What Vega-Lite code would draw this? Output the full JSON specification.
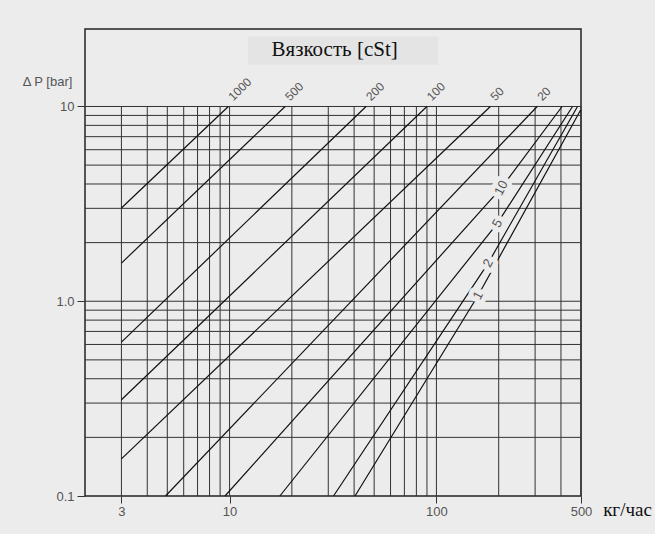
{
  "$schema": "https://vega.github.io/schema/vega-lite/v6.json",
  "width": 496,
  "height": 467,
  "autosize": {"type": "none"},
  "padding": {"left": 85, "top": 29, "right": 74, "bottom": 38},
  "background": "#ececec",
  "datasets": {
    "lines": [
      {"v": "1000", "q": 3, "dp": 3.01}, {"v": "1000", "q": 9.86, "dp": 10},
      {"v": "500", "q": 3, "dp": 1.57}, {"v": "500", "q": 18.56, "dp": 10},
      {"v": "200", "q": 3, "dp": 0.617}, {"v": "200", "q": 45.7, "dp": 10},
      {"v": "100", "q": 3, "dp": 0.312}, {"v": "100", "q": 89.9, "dp": 10},
      {"v": "50", "q": 3, "dp": 0.155}, {"v": "50", "q": 182.3, "dp": 10},
      {"v": "20", "q": 4.9, "dp": 0.1}, {"v": "20", "q": 307, "dp": 10},
      {"v": "10", "q": 9.5, "dp": 0.1}, {"v": "10", "q": 206, "dp": 3.82}, {"v": "10", "q": 405, "dp": 10},
      {"v": "5", "q": 17.5, "dp": 0.1}, {"v": "5", "q": 197, "dp": 2.51}, {"v": "5", "q": 455, "dp": 10},
      {"v": "2", "q": 31.8, "dp": 0.1}, {"v": "2", "q": 178, "dp": 1.57}, {"v": "2", "q": 481, "dp": 10},
      {"v": "1", "q": 40.4, "dp": 0.1}, {"v": "1", "q": 159, "dp": 1.07}, {"v": "1", "q": 498, "dp": 9.6}
    ],
    "toplabels": [
      {"v": "1000", "q": 9.86, "dp": 10},
      {"v": "500", "q": 18.56, "dp": 10},
      {"v": "200", "q": 45.7, "dp": 10},
      {"v": "100", "q": 89.9, "dp": 10},
      {"v": "50", "q": 182.3, "dp": 10},
      {"v": "20", "q": 307, "dp": 10}
    ],
    "inlabels": [
      {"v": "10", "q": 206, "dp": 3.82},
      {"v": "5", "q": 197, "dp": 2.51},
      {"v": "2", "q": 178, "dp": 1.57},
      {"v": "1", "q": 159, "dp": 1.07}
    ],
    "gridx": [
      {"q": 3, "dp": 0.1, "dp2": 10}, {"q": 4, "dp": 0.1, "dp2": 10}, {"q": 5, "dp": 0.1, "dp2": 10},
      {"q": 6, "dp": 0.1, "dp2": 10}, {"q": 7, "dp": 0.1, "dp2": 10}, {"q": 8, "dp": 0.1, "dp2": 10},
      {"q": 9, "dp": 0.1, "dp2": 10}, {"q": 10, "dp": 0.1, "dp2": 10},
      {"q": 20, "dp": 0.1, "dp2": 10}, {"q": 30, "dp": 0.1, "dp2": 10}, {"q": 40, "dp": 0.1, "dp2": 10},
      {"q": 50, "dp": 0.1, "dp2": 10}, {"q": 60, "dp": 0.1, "dp2": 10}, {"q": 70, "dp": 0.1, "dp2": 10},
      {"q": 80, "dp": 0.1, "dp2": 10}, {"q": 90, "dp": 0.1, "dp2": 10}, {"q": 100, "dp": 0.1, "dp2": 10},
      {"q": 200, "dp": 0.1, "dp2": 10}, {"q": 300, "dp": 0.1, "dp2": 10}, {"q": 400, "dp": 0.1, "dp2": 10},
      {"q": 500, "dp": 0.1, "dp2": 10}
    ],
    "gridy": [
      {"dp": 0.2, "q": 2, "q2": 500}, {"dp": 0.3, "q": 2, "q2": 500}, {"dp": 0.4, "q": 2, "q2": 500},
      {"dp": 0.5, "q": 2, "q2": 500}, {"dp": 0.6, "q": 2, "q2": 500}, {"dp": 0.7, "q": 2, "q2": 500},
      {"dp": 0.8, "q": 2, "q2": 500}, {"dp": 0.9, "q": 2, "q2": 500}, {"dp": 1, "q": 2, "q2": 500},
      {"dp": 2, "q": 2, "q2": 500}, {"dp": 3, "q": 2, "q2": 500}, {"dp": 4, "q": 2, "q2": 500},
      {"dp": 5, "q": 2, "q2": 500}, {"dp": 6, "q": 2, "q2": 500}, {"dp": 7, "q": 2, "q2": 500},
      {"dp": 8, "q": 2, "q2": 500}, {"dp": 9, "q": 2, "q2": 500}, {"dp": 10, "q": 2, "q2": 500}
    ],
    "titlebox": [
      {"q": 12.3, "q2": 102, "dp": 16.4, "dp2": 22.9, "t": "Вязкость [cSt]", "tq": 32.2, "tdp": 19.6}
    ]
  },
  "encoding": {
    "x": {
      "field": "q", "type": "quantitative",
      "scale": {"type": "log", "domain": [2, 500], "nice": false},
      "axis": {
        "title": "кг/час",
        "values": [3, 10, 100, 500],
        "format": "d",
        "grid": false,
        "domain": false,
        "ticks": true,
        "tickSize": 7,
        "tickColor": "#333333",
        "labelFont": "Liberation Sans",
        "labelFontSize": 13,
        "labelColor": "#555555",
        "labelPadding": 2,
        "labelFlush": false,
        "titleFont": "Liberation Serif",
        "titleFontSize": 19,
        "titleFontWeight": "normal",
        "titleColor": "#111111",
        "titleX": 542,
        "titleY": 13,
        "titleAlign": "center",
        "titleBaseline": "middle"
      }
    },
    "y": {
      "field": "dp", "type": "quantitative",
      "scale": {"type": "log", "domain": [0.1, 25], "nice": false},
      "axis": {
        "title": "Δ P [bar]",
        "values": [0.1, 1, 10],
        "labelExpr": "datum.value >= 5 ? '10' : datum.value >= 0.5 ? '1.0' : '0.1'",
        "grid": false,
        "domain": false,
        "ticks": true,
        "tickSize": 8,
        "tickColor": "#333333",
        "labelFont": "Liberation Sans",
        "labelFontSize": 13,
        "labelColor": "#555555",
        "labelPadding": 3,
        "labelFlush": false,
        "titleAngle": 0,
        "titleFont": "Liberation Sans",
        "titleFontSize": 13,
        "titleFontWeight": "normal",
        "titleColor": "#555555",
        "titleX": -38,
        "titleY": 52,
        "titleAlign": "center",
        "titleBaseline": "middle"
      }
    }
  },
  "layer": [
    {
      "data": {"name": "titlebox"},
      "mark": {"type": "rect", "color": "#e4e4e4"},
      "encoding": {
        "x2": {"field": "q2"},
        "y2": {"field": "dp2"}
      }
    },
    {
      "data": {"name": "titlebox"},
      "mark": {"type": "text", "font": "Liberation Serif", "fontSize": 21, "color": "#111111", "align": "center", "baseline": "middle"},
      "encoding": {
        "x": {"field": "tq", "type": "quantitative"},
        "y": {"field": "tdp", "type": "quantitative"},
        "text": {"field": "t", "type": "nominal"}
      }
    },
    {
      "data": {"name": "gridx"},
      "mark": {"type": "rule", "color": "#333333", "strokeWidth": 1},
      "encoding": {
        "y2": {"field": "dp2"}
      }
    },
    {
      "data": {"name": "gridy"},
      "mark": {"type": "rule", "color": "#333333", "strokeWidth": 1},
      "encoding": {
        "x2": {"field": "q2"}
      }
    },
    {
      "data": {"name": "lines"},
      "mark": {"type": "line", "color": "#111111", "strokeWidth": 1.2},
      "encoding": {
        "detail": {"field": "v", "type": "nominal"}
      }
    },
    {
      "data": {"name": "inlabels"},
      "mark": {"type": "text", "font": "Liberation Sans", "fontSize": 13, "angle": 298, "align": "center", "baseline": "middle", "stroke": "#ececec", "strokeWidth": 10, "strokeJoin": "round", "fill": "#ececec"},
      "encoding": {
        "text": {"field": "v", "type": "nominal"}
      }
    },
    {
      "data": {"name": "inlabels"},
      "mark": {"type": "text", "font": "Liberation Sans", "fontSize": 13, "angle": 298, "align": "center", "baseline": "middle", "color": "#555555"},
      "encoding": {
        "text": {"field": "v", "type": "nominal"}
      }
    },
    {
      "data": {"name": "toplabels"},
      "mark": {"type": "text", "font": "Liberation Sans", "fontSize": 12, "angle": 315, "align": "left", "baseline": "middle", "dx": 7, "dy": -4, "color": "#555555"},
      "encoding": {
        "text": {"field": "v", "type": "nominal"}
      }
    }
  ],
  "config": {
    "view": {"stroke": "#222222", "strokeWidth": 1.5}
  }
}
